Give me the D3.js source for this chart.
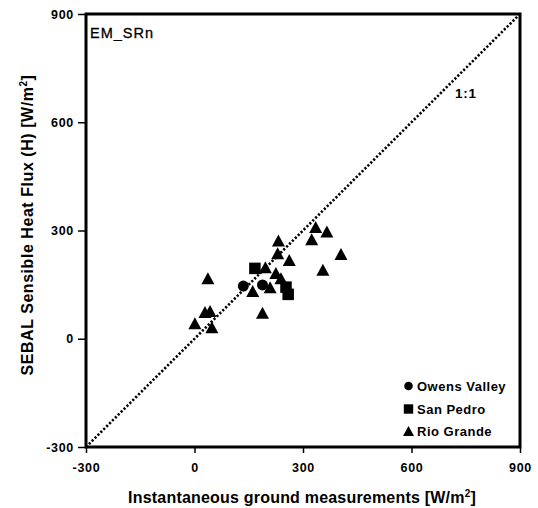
<!DOCTYPE html>
<html><head><meta charset="utf-8">
<script src="https://cdnjs.cloudflare.com/ajax/libs/d3/7.8.5/d3.min.js"></script>
<style>
html,body{margin:0;padding:0;background:#fff;}
svg{display:block;font-family:"Liberation Sans",Arial,sans-serif;}
</style></head>
<body><svg id="chart" width="538" height="508"></svg>
<script>
const tickValues = [-300, 0, 300, 600, 900];
const owensX = [135, 188];
const owensY = [146, 149];
const sanPedroX = [167, 253, 259];
const sanPedroY = [195, 143, 123];
const rioX = [335, 366, 324, 405, 355, 232, 230, 262, 196, 37, 161, 225, 239, 209, 188, 29, 43, 1, 48];
const rioY = [310, 297, 276, 235, 191, 272, 237, 218, 198, 168, 132, 182, 168, 143, 72, 74, 77, 43, 32];
const seriesNames = ["Owens Valley", "San Pedro", "Rio Grande"];

const svg = d3.select("#chart");
const L = 86, R = 520, T = 14, B = 447;
const x = d3.scaleLinear().domain([-300, 900]).range([L, R]);
const y = d3.scaleLinear().domain([-300, 900]).range([B, T]);

// axes
const xAxis = svg.append("g").attr("transform", `translate(0,${B})`)
  .call(d3.axisBottom(x).tickValues(tickValues).tickSize(6).tickPadding(10).tickFormat(d => String(d)));
const yAxis = svg.append("g").attr("transform", `translate(${L},0)`)
  .call(d3.axisLeft(y).tickValues(tickValues).tickSize(8).tickPadding(4).tickFormat(d => String(d)));
[xAxis, yAxis].forEach(g => {
  g.select(".domain").remove();
  g.selectAll(".tick line").attr("stroke", "#000").attr("stroke-width", 1.5);
  g.selectAll(".tick text").attr("fill", "#000").style("font-family", "Liberation Sans, Arial, sans-serif")
    .style("font-size", "12.5px").style("font-weight", "bold").style("letter-spacing", "0.7px");
});

// 1:1 line
svg.append("line")
  .attr("x1", x(-300)).attr("y1", y(-300)).attr("x2", x(900)).attr("y2", y(900))
  .attr("stroke", "#000").attr("stroke-width", 2.6).attr("stroke-dasharray", "2.2,1.9");

const gOw = svg.append("g");
gOw.selectAll("circle").data(owensX.map((v, i) => [v, owensY[i]])).join("circle")
  .attr("cx", d => x(d[0])).attr("cy", d => y(d[1])).attr("r", 5.5).attr("fill", "#000");

const sq = 11.5;
const gSp = svg.append("g");
gSp.selectAll("rect").data(sanPedroX.map((v, i) => [v, sanPedroY[i]])).join("rect")
  .attr("x", d => x(d[0]) - sq / 2).attr("y", d => y(d[1]) - sq / 2)
  .attr("width", sq).attr("height", sq).attr("fill", "#000");

const tri = (cx, cy, w, h) => `M${cx},${cy - h / 2}L${cx + w / 2},${cy + h / 2}L${cx - w / 2},${cy + h / 2}Z`;
const gRg = svg.append("g");
gRg.selectAll("path").data(rioX.map((v, i) => [v, rioY[i]])).join("path")
  .attr("d", d => tri(x(d[0]), y(d[1]), 13, 12)).attr("fill", "#000");

// frame
svg.append("rect").attr("x", L).attr("y", T).attr("width", R - L).attr("height", B - T)
  .attr("fill", "none").attr("stroke", "#000").attr("stroke-width", 3);

// labels
svg.append("text").attr("x", 90).attr("y", 38).text("EM_SRn")
  .style("font-size", "14.5px").style("font-weight", "500").style("letter-spacing", "1px")
  .attr("fill", "#000").attr("stroke", "#000").attr("stroke-width", 0.3);
svg.append("text").attr("x", 455).attr("y", 97.5).text("1:1")
  .style("font-size", "13.5px").style("font-weight", "bold").style("letter-spacing", "0.8px").attr("fill", "#000");

// legend
const legY = [386, 409, 431.5];
const lg = svg.append("g");
lg.append("circle").attr("cx", 408.5).attr("cy", legY[0]).attr("r", 4.3).attr("fill", "#000");
lg.append("rect").attr("x", 408.5 - 4.7).attr("y", legY[1] - 4.7).attr("width", 9.4).attr("height", 9.4).attr("fill", "#000");
lg.append("path").attr("d", tri(408.5, legY[2] - 0.5, 11, 10)).attr("fill", "#000");
seriesNames.forEach((n, i) => {
  lg.append("text").attr("x", 417).attr("y", legY[i] + 4.8).text(n)
    .style("font-size", "13px").style("font-weight", "bold").style("letter-spacing", "0.5px").attr("fill", "#000");
});

// axis titles
const xt = svg.append("text").attr("x", 302).attr("y", 503).attr("text-anchor", "middle")
  .style("font-size", "16px").style("font-weight", "bold").style("letter-spacing", "0.2px").attr("fill", "#000");
xt.append("tspan").text("Instantaneous ground measurements [W/m");
xt.append("tspan").text("2").attr("dy", -6).style("font-size", "10px");
xt.append("tspan").text("]").attr("dy", 6);

const yt = svg.append("text").attr("transform", "translate(33,225) rotate(-90)").attr("text-anchor", "middle")
  .style("font-size", "16px").style("font-weight", "bold").style("letter-spacing", "0.55px").attr("fill", "#000");
yt.append("tspan").text("SEBAL Sensible Heat Flux (H) [W/m");
yt.append("tspan").text("2").attr("dy", -6).style("font-size", "10px");
yt.append("tspan").text("]").attr("dy", 6);
</script></body></html>
